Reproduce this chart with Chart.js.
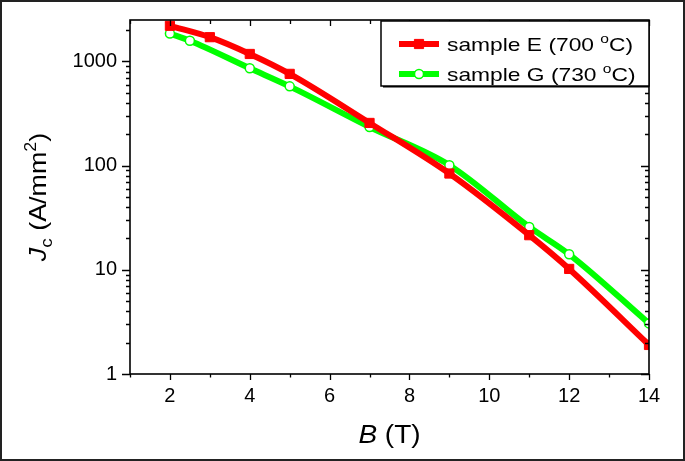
<!DOCTYPE html>
<html>
<head>
<meta charset="utf-8">
<script src="https://cdn.jsdelivr.net/npm/chart.js@4/dist/chart.umd.min.js"></script>
<style>
  html, body { margin: 0; padding: 0; background: #fff; }
  canvas { display: block; }
</style>
</head>
<body>
<canvas id="jcChart" width="685" height="461"></canvas>
<script>
// data (B in tesla, Jc in A/mm2)
const fieldE = [2, 3, 4, 5, 7, 9, 11, 12, 14];
const jcE = [2200, 1710, 1180, 760, 257, 84, 21.5, 10.2, 1.9];
const fieldG = [2, 2.5, 4, 5, 7, 9, 11, 12, 14];
const jcG = [1850, 1580, 860, 577, 235, 101, 25.8, 14.1, 3.06];
const seriesLabels = ['sample E (700 °C)', 'sample G (730 °C)'];

const xTicks = [1, 2, 3, 4, 5, 6, 7, 8, 9, 10, 11, 12, 13, 14];
const xLabels = [2, 4, 6, 8, 10, 12, 14];
const yTicks = [1, 2, 3, 4, 5, 6, 7, 8, 9, 10, 20, 30, 40, 50, 60, 70, 80, 90,
                100, 200, 300, 400, 500, 600, 700, 800, 900, 1000, 2000];
const yLabels = [1, 10, 100, 1000];

const FONT = '"Liberation Sans", Arial, sans-serif';
const RED = '#ff0000';
const GREEN = '#00ff00';

function pts(xs, ys) {
    return xs.map((b, i) => ({ x: b, y: ys[i] }));
}

// draws text pieces (super/subscripts) one after another, optionally stretched
function drawRich(ctx, parts, x, y, align, sx) {
    let w = 0;
    parts.forEach(p => { ctx.font = p.font; w += ctx.measureText(p.t).width * sx; });
    let cx = align === 'center' ? x - w / 2 : x;
    parts.forEach(p => {
        ctx.font = p.font;
        ctx.save();
        ctx.translate(cx, y + (p.dy || 0));
        ctx.scale(sx, 1);
        ctx.fillText(p.t, 0, 0);
        ctx.restore();
        cx += ctx.measureText(p.t).width * sx;
    });
}

function degreeParts(label, size) {
    const [a, b] = label.split('°');
    return [
        { t: a, font: size + 'px ' + FONT },
        { t: 'o', font: Math.round(size * 0.68) + 'px ' + FONT, dy: -8 },
        { t: b, font: size + 'px ' + FONT }
    ];
}

const decorations = {
    id: 'decorations',
    afterDraw(chart) {
        const { ctx, chartArea: a, scales: { x, y } } = chart;
        ctx.save();
        ctx.strokeStyle = '#000';
        ctx.fillStyle = '#000';

        // tick marks: outward on bottom/left, inward on top/right
        ctx.lineWidth = 1.3;
        ctx.beginPath();
        x.ticks.forEach(t => {
            const px = Math.round(x.getPixelForValue(t.value)) + 0.5;
            const major = xLabels.includes(t.value);
            ctx.moveTo(px, a.bottom); ctx.lineTo(px, a.bottom + (major ? 6 : 3.5));
            ctx.moveTo(px, a.top); ctx.lineTo(px, a.top + (major ? 6 : 4));
        });
        y.ticks.forEach(t => {
            const py = Math.round(y.getPixelForValue(t.value)) + 0.5;
            const major = yLabels.includes(t.value);
            ctx.moveTo(a.left, py); ctx.lineTo(a.left - (major ? 8 : 4), py);
            ctx.moveTo(a.right, py); ctx.lineTo(a.right - (major ? 8 : 4), py);
        });
        ctx.stroke();

        // plot frame
        ctx.lineWidth = 1.6;
        ctx.strokeRect(a.left, a.top, a.right - a.left, a.bottom - a.top);

        // legend box
        const lx = 381, ly = 21, lw = a.right - 381, lh = 65;
        ctx.fillStyle = '#000';
        ctx.fillRect(lx + 2, ly + lh - 1, lw - 2, 2.5);
        ctx.fillStyle = '#fff';
        ctx.fillRect(lx, ly, lw, lh);
        ctx.lineWidth = 1.5;
        ctx.strokeRect(lx, ly, lw, lh);

        const rows = [44, 74];
        chart.data.datasets.forEach((ds, i) => {
            const cy = rows[i];
            ctx.strokeStyle = ds.borderColor;
            ctx.lineWidth = ds.borderWidth;
            ctx.beginPath();
            ctx.moveTo(399, cy); ctx.lineTo(439, cy);
            ctx.stroke();
            ctx.lineWidth = ds.pointBorderWidth;
            ctx.strokeStyle = ds.pointBorderColor;
            ctx.fillStyle = ds.pointBackgroundColor;
            Chart.helpers.drawPoint(ctx, {
                pointStyle: ds.pointStyle, radius: ds.pointRadius, rotation: 0, borderWidth: ds.pointBorderWidth
            }, 419, cy);
            ctx.fillStyle = '#000';
            ctx.textBaseline = 'alphabetic';
            ctx.textAlign = 'left';
            drawRich(ctx, degreeParts(ds.label, 19), 447, cy + 7, 'left', 1.2);
        });

        // axis titles
        ctx.fillStyle = '#000';
        ctx.textAlign = 'left';
        ctx.textBaseline = 'alphabetic';
        drawRich(ctx, [
            { t: 'B', font: 'italic 25px ' + FONT },
            { t: ' (T)', font: '25px ' + FONT }
        ], (a.left + a.right) / 2, 443, 'center', 1.12);

        ctx.save();
        ctx.translate(46, 197);
        ctx.rotate(-Math.PI / 2);
        drawRich(ctx, [
            { t: 'J', font: 'italic 24px ' + FONT },
            { t: 'c', font: '17px ' + FONT, dy: 6 },
            { t: ' (A/mm', font: '24px ' + FONT },
            { t: '2', font: '16px ' + FONT, dy: -10 },
            { t: ')', font: '24px ' + FONT }
        ], 0, 0, 'center', 1.12);
        ctx.restore();

        // outer border of the figure
        ctx.strokeStyle = '#222';
        ctx.lineWidth = 2;
        ctx.strokeRect(1, 1, chart.width - 2, chart.height - 2);
        ctx.restore();
    }
};

new Chart(document.getElementById('jcChart'), {
    type: 'line',
    data: {
        datasets: [
            {
                label: seriesLabels[0],
                data: pts(fieldE, jcE),
                borderColor: RED,
                borderWidth: 6,
                pointStyle: 'rect',
                pointRadius: 6.5,
                pointBackgroundColor: RED,
                pointBorderColor: RED,
                pointBorderWidth: 1,
                cubicInterpolationMode: 'monotone',
                clip: 0
            },
            {
                label: seriesLabels[1],
                data: pts(fieldG, jcG),
                borderColor: GREEN,
                borderWidth: 6,
                pointStyle: 'circle',
                pointRadius: 4.5,
                pointBackgroundColor: '#fff',
                pointBorderColor: GREEN,
                pointBorderWidth: 1.5,
                cubicInterpolationMode: 'monotone',
                clip: 0
            }
        ]
    },
    options: {
        responsive: false,
        animation: false,
        devicePixelRatio: 1,
        layout: { padding: { top: 20, right: 36, left: 0, bottom: 0 } },
        plugins: { legend: { display: false }, tooltip: { enabled: false } },
        scales: {
            x: {
                type: 'linear',
                min: 1,
                max: 14,
                grid: { display: false, drawTicks: false },
                border: { display: false },
                afterBuildTicks: s => { s.ticks = xTicks.map(v => ({ value: v })); },
                afterFit: s => { s.height = 87; s.paddingLeft = 0; s.paddingRight = 0; },
                ticks: {
                    autoSkip: false,
                    maxRotation: 0,
                    padding: 10,
                    color: '#000',
                    font: { family: FONT, size: 20 },
                    callback: v => xLabels.includes(v) ? String(v) : ''
                }
            },
            y: {
                type: 'logarithmic',
                min: 1,
                max: 2500,
                grid: { display: false, drawTicks: false },
                border: { display: false },
                afterBuildTicks: s => { s.ticks = yTicks.map(v => ({ value: v })); },
                afterFit: s => { s.width = 130; s.paddingTop = 0; s.paddingBottom = 0; },
                ticks: {
                    autoSkip: false,
                    padding: 13,
                    color: '#000',
                    font: { family: FONT, size: 20 },
                    callback: v => yLabels.includes(v) ? String(v) : ''
                }
            }
        }
    },
    plugins: [decorations]
});
</script>
</body>
</html>
